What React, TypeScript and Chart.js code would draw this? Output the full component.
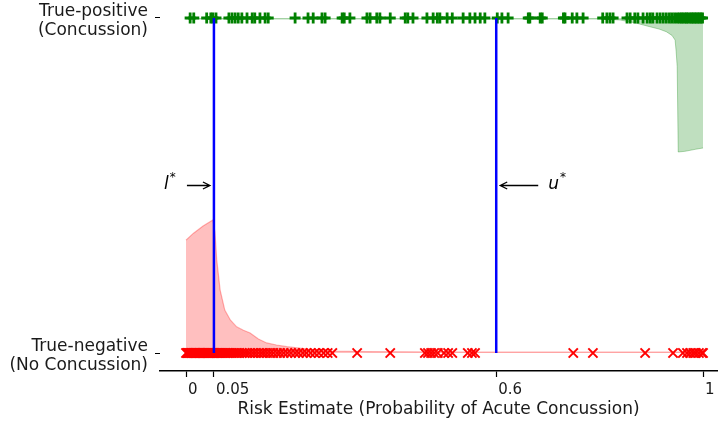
import React, { useEffect, useRef } from "react";
import { Chart, registerables } from "chart.js";

Chart.register(...registerables);

// ---- data ----
const yTickValues = [0, 1];
const yTickLabels = [["True-negative", "(No Concussion)"], ["True-positive", "(Concussion)"]];
const xTickValues = [0, 0.054, 0.6, 1];
const xTickLabels = ["0", "0.05", "0.6", "1"];
const xTitle = "Risk Estimate (Probability of Acute Concussion)";

const lStar = 0.054;
const uStar = 0.6;
const arrowY = 0.5;

// True-positive (concussion) risk estimates
const positiveX = [
  0.008, 0.015, 0.040, 0.048, 0.052, 0.058, 0.083, 0.089, 0.095, 0.101, 0.108, 0.118,
  0.128, 0.133, 0.143, 0.153, 0.159, 0.211, 0.236, 0.246, 0.263, 0.269, 0.302, 0.306,
  0.317, 0.350, 0.356, 0.369, 0.375, 0.395, 0.424, 0.429, 0.439, 0.466, 0.478, 0.486,
  0.491, 0.505, 0.515, 0.536, 0.549, 0.559, 0.569, 0.578, 0.602, 0.611, 0.623, 0.662,
  0.665, 0.685, 0.689, 0.730, 0.733, 0.747, 0.756, 0.768, 0.806, 0.814, 0.820, 0.826,
  0.853, 0.859, 0.868, 0.874, 0.884, 0.892, 0.898, 0.903, 0.911, 0.917, 0.923, 0.929,
  0.935, 0.940, 0.945, 0.950, 0.954, 0.958, 0.961, 0.965, 0.968, 0.971, 0.975, 0.978,
  0.981, 0.984, 0.987, 0.990, 0.993, 0.996, 0.999,
];

// True-negative (no concussion) risk estimates
const negativeX = [
  0.000, 0.002, 0.003, 0.005, 0.006, 0.008, 0.010, 0.011, 0.013, 0.014, 0.016, 0.018,
  0.019, 0.021, 0.022, 0.024, 0.026, 0.027, 0.029, 0.031, 0.032, 0.034, 0.036, 0.037,
  0.039, 0.041, 0.043, 0.044, 0.046, 0.048, 0.050, 0.052, 0.054, 0.056, 0.058, 0.061,
  0.063, 0.066, 0.068, 0.071, 0.074, 0.077, 0.080, 0.083, 0.087, 0.091, 0.095, 0.099,
  0.103, 0.108, 0.113, 0.118, 0.123, 0.129, 0.134, 0.140, 0.146, 0.151, 0.157, 0.163,
  0.169, 0.176, 0.182, 0.189, 0.196, 0.203, 0.211, 0.218, 0.226, 0.233, 0.241, 0.249,
  0.257, 0.266, 0.274, 0.283, 0.331, 0.395, 0.462, 0.468, 0.474, 0.480, 0.487, 0.499,
  0.507, 0.515, 0.545, 0.553, 0.559, 0.749, 0.787, 0.888, 0.942, 0.961, 0.969, 0.975,
  0.981, 0.986, 0.992, 0.998, 1.000,
];

// density of negatives (height above the true-negative row)
const negDensityX = [0.0, 0.014, 0.033, 0.052, 0.056, 0.0594, 0.066, 0.075, 0.086, 0.098, 0.111, 0.124, 0.14, 0.156, 0.175, 0.195, 0.235, 0.279, 0.35, 0.5, 0.7, 0.9, 1.0];
const negDensityY = [0.337, 0.357, 0.379, 0.397, 0.36, 0.278, 0.188, 0.128, 0.098, 0.078, 0.068, 0.06, 0.042, 0.03, 0.024, 0.019, 0.012, 0.006, 0.004, 0.003, 0.003, 0.003, 0.003];

// density of positives (depth below the true-positive row)
const posDensityX = [0.0, 0.3, 0.6, 0.8, 0.840, 0.870, 0.897, 0.915, 0.929, 0.940, 0.946, 0.948, 0.950, 0.952, 0.965, 0.985, 1.0];
const posDensityDepth = [0.003, 0.003, 0.003, 0.003, 0.006, 0.015, 0.026, 0.033, 0.041, 0.052, 0.066, 0.1, 0.145, 0.40, 0.398, 0.392, 0.388];

const FONT = "'DejaVu Sans', sans-serif";
const TEXT_COLOR = "#1a1a1a";

function drawArrow(ctx: CanvasRenderingContext2D, x0: number, y0: number, x1: number, y1: number) {
  const dir = Math.sign(x1 - x0);
  ctx.beginPath();
  ctx.moveTo(x0, y0);
  ctx.lineTo(x1, y1);
  ctx.moveTo(x1 - dir * 7, y1 - 3.5);
  ctx.lineTo(x1, y1);
  ctx.lineTo(x1 - dir * 7, y1 + 3.5);
  ctx.stroke();
}

function drawStarLabel(ctx: CanvasRenderingContext2D, letter: string, x: number, baseY: number) {
  ctx.font = `italic 17px ${FONT}`;
  ctx.textAlign = "left";
  ctx.textBaseline = "alphabetic";
  ctx.fillText(letter, x, baseY);
  const w = ctx.measureText(letter).width;
  ctx.font = `12px ${FONT}`;
  ctx.fillText("*", x + w + 1, baseY - 8);
}

const annotationPlugin = {
  id: "starAnnotations",
  afterDatasetsDraw(chart: any) {
    const { ctx, scales } = chart;
    const xs = scales.x;
    const ys = scales.y;
    const ay = ys.getPixelForValue(arrowY);
    const lx = xs.getPixelForValue(lStar);
    const ux = xs.getPixelForValue(uStar);
    ctx.save();
    ctx.strokeStyle = "#000";
    ctx.fillStyle = "#000";
    ctx.lineWidth = 1.3;
    drawArrow(ctx, lx - 27, ay, lx - 4, ay);
    drawStarLabel(ctx, "l", lx - 50, ay + 3);
    drawArrow(ctx, ux + 42, ay, ux + 4, ay);
    drawStarLabel(ctx, "u", ux + 52, ay + 3);
    ctx.restore();
  },
};

export default function App() {
  const canvasRef = useRef<HTMLCanvasElement | null>(null);

  useEffect(() => {
    const canvas = canvasRef.current;
    if (!canvas) return;

    const blueLine = (v: number) => ({
      data: [{ x: v, y: 0 }, { x: v, y: 1 }],
      borderColor: "#0000ff",
      borderWidth: 2.5,
      pointRadius: 0,
      showLine: true,
      fill: false,
    });

    const chart = new Chart(canvas, {
      type: "line",
      data: {
        datasets: [
          blueLine(lStar) as any,
          blueLine(uStar) as any,
          {
            data: positiveX.map((v) => ({ x: v, y: 1 })),
            showLine: false,
            pointStyle: "cross",
            pointRadius: 5.5,
            pointBorderWidth: 2.8,
            borderColor: "#008000",
            pointBorderColor: "#008000",
            backgroundColor: "#008000",
          },
          {
            data: negativeX.map((v) => ({ x: v, y: 0 })),
            showLine: false,
            pointStyle: "crossRot",
            pointRadius: 6.5,
            pointBorderWidth: 2,
            borderColor: "#ff0000",
            pointBorderColor: "#ff0000",
            backgroundColor: "#ff0000",
          },
          {
            data: posDensityX.map((v, i) => ({ x: v, y: 1 - posDensityDepth[i] })),
            showLine: true,
            pointRadius: 0,
            borderWidth: 1,
            borderColor: "rgba(0,128,0,0.3)",
            backgroundColor: "rgba(0,128,0,0.25)",
            fill: { value: 1 },
            tension: 0,
          },
          {
            data: negDensityX.map((v, i) => ({ x: v, y: negDensityY[i] })),
            showLine: true,
            pointRadius: 0,
            borderWidth: 1.2,
            borderColor: "rgba(255,0,0,0.3)",
            backgroundColor: "rgba(255,0,0,0.25)",
            fill: { value: 0 },
            tension: 0,
          },
        ],
      },
      options: {
        animation: false,
        responsive: false,
        devicePixelRatio: 1,
        layout: { autoPadding: false, padding: { top: 0, right: 2, bottom: 0, left: 0 } },
        plugins: {
          legend: { display: false },
          tooltip: { enabled: false },
        },
        scales: {
          x: {
            type: "linear",
            min: -0.0503,
            max: 1.027,
            afterBuildTicks: (scale: any) => {
              scale.ticks = xTickValues.map((v) => ({ value: v }));
            },
            afterFit: (scale: any) => {
              scale.height = 56;
              scale.paddingLeft = 0;
              scale.paddingRight = 0;
            },
            ticks: {
              callback: (_v: any, i: number) => xTickLabels[i],
              align: "start",
              labelOffset: 2,
              padding: 4,
              maxRotation: 0,
              autoSkip: false,
              color: TEXT_COLOR,
              font: { family: FONT, size: 15 },
            },
            grid: {
              display: true,
              drawOnChartArea: false,
              drawTicks: true,
              tickLength: 6,
              tickColor: "#000",
              tickWidth: 1.2,
            },
            border: { display: true, color: "#000", width: 1.5 },
            title: {
              display: true,
              text: xTitle,
              color: TEXT_COLOR,
              font: { family: FONT, size: 17 },
              padding: { top: 0, bottom: 7 },
            },
          },
          y: {
            type: "linear",
            min: -0.0537,
            max: 1.0537,
            afterBuildTicks: (scale: any) => {
              scale.ticks = yTickValues.map((v) => ({ value: v }));
            },
            afterFit: (scale: any) => {
              scale.width = 160;
              scale.paddingTop = 0;
              scale.paddingBottom = 0;
            },
            ticks: {
              callback: (_v: any, i: number) => yTickLabels[i],
              padding: 7,
              labelOffset: 3,
              autoSkip: false,
              color: TEXT_COLOR,
              font: { family: FONT, size: 17, lineHeight: 1.12 },
            },
            grid: {
              display: true,
              drawOnChartArea: false,
              drawTicks: true,
              tickLength: 5,
              tickColor: "#000",
              tickWidth: 1,
            },
            border: { display: false },
          },
        },
      },
      plugins: [annotationPlugin],
    } as any);

    return () => chart.destroy();
  }, []);

  return (
    <div style={{ position: "fixed", left: 0, top: 0, width: 719, height: 427, background: "#fff" }}>
      <canvas ref={canvasRef} width={719} height={427} style={{ display: "block" }} />
    </div>
  );
}
